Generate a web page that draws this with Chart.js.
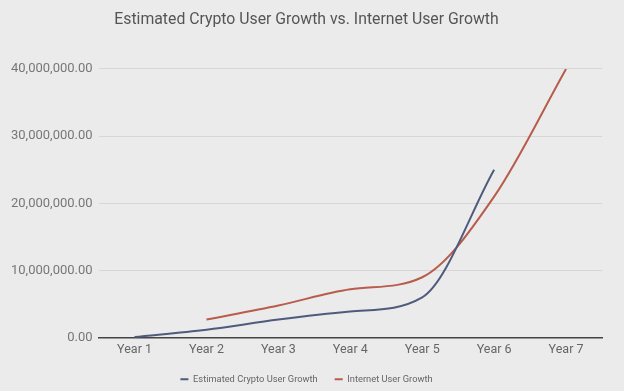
<!DOCTYPE html>
<html>
<head>
<meta charset="utf-8">
<script src="https://cdn.jsdelivr.net/npm/chart.js@4"></script>
<style>
  html, body { margin: 0; padding: 0; background: #ebebeb; }
  #wrap { width: 624px; height: 391px; }
</style>
</head>
<body>
<div id="wrap"><canvas id="growthChart"></canvas></div>
<script>
// data
const years = ["Year 1", "Year 2", "Year 3", "Year 4", "Year 5", "Year 6", "Year 7"];
const cryptoUsers = [100000, 1200000, 2700000, 3900000, 6000000, 25000000, null];
const internetUsers = [null, 2700000, 4800000, 7200000, 9000000, 21000000, 40000000];
const yTicks = [0, 10000000, 20000000, 30000000, 40000000];

const bgPlugin = {
    id: "bg",
    beforeDraw(chart) {
        const ctx = chart.ctx;
        ctx.save();
        ctx.fillStyle = "#ebebeb";
        ctx.fillRect(0, 0, chart.width, chart.height);
        ctx.restore();
    }
};

// nudge title and legend a few px (centred a bit right of the plot in the original)
const nudgePlugin = {
    id: "nudge",
    afterLayout(chart) {
        for (const b of [chart.titleBlock, chart.legend]) {
            b.left += 3;
            b.right += 3;
        }
        chart.legend.top -= 5;
        chart.legend.bottom -= 5;
    }
};

new Chart("growthChart", {
    type: "line",
    data: {
        labels: years,
        datasets: [{
            label: "Estimated Crypto User Growth",
            data: cryptoUsers,
            borderColor: "#4f5b7d",
            backgroundColor: "#4f5b7d",
            borderWidth: 2,
            pointRadius: 0,
            cubicInterpolationMode: "monotone",
            spanGaps: false
        }, {
            label: "Internet User Growth",
            data: internetUsers,
            borderColor: "#b85c4c",
            backgroundColor: "#b85c4c",
            borderWidth: 2,
            pointRadius: 0,
            cubicInterpolationMode: "monotone",
            spanGaps: false
        }]
    },
    options: {
        responsive: true,
        maintainAspectRatio: false,
        animation: false,
        layout: {padding: {left: 5, right: 22, top: 4, bottom: -8}},
        plugins: {
            title: {
                display: true,
                text: "Estimated Crypto User Growth vs. Internet User Growth",
                color: "#555",
                font: {family: "Roboto", size: 15.8, weight: "normal"},
                padding: {top: 7, bottom: 39}
            },
            legend: {
                position: "bottom",
                labels: {
                    usePointStyle: true,
                    pointStyle: "line",
                    pointStyleWidth: 8,
                    color: "#666",
                    font: {family: "Roboto", size: 9.3},
                    padding: 17
                }
            },
            tooltip: {enabled: false}
        },
        scales: {
            x: {
                offset: true,
                grid: {display: false, drawTicks: false},
                border: {color: "#444", width: 1.5},
                ticks: {color: "#666", font: {family: "Roboto", size: 12.5}, padding: 5}
            },
            y: {
                min: 0,
                max: 40000000,
                afterBuildTicks(axis) { axis.ticks = yTicks.map(v => ({value: v})); },
                grid: {color: "#d6d6d6", drawTicks: false},
                border: {display: false},
                ticks: {
                    color: "#777",
                    font: {family: "Roboto", size: 13},
                    padding: 6,
                    callback: v => v.toLocaleString("en-US", {minimumFractionDigits: 2, maximumFractionDigits: 2})
                }
            }
        }
    },
    plugins: [bgPlugin, nudgePlugin]
});
</script>
</body>
</html>
